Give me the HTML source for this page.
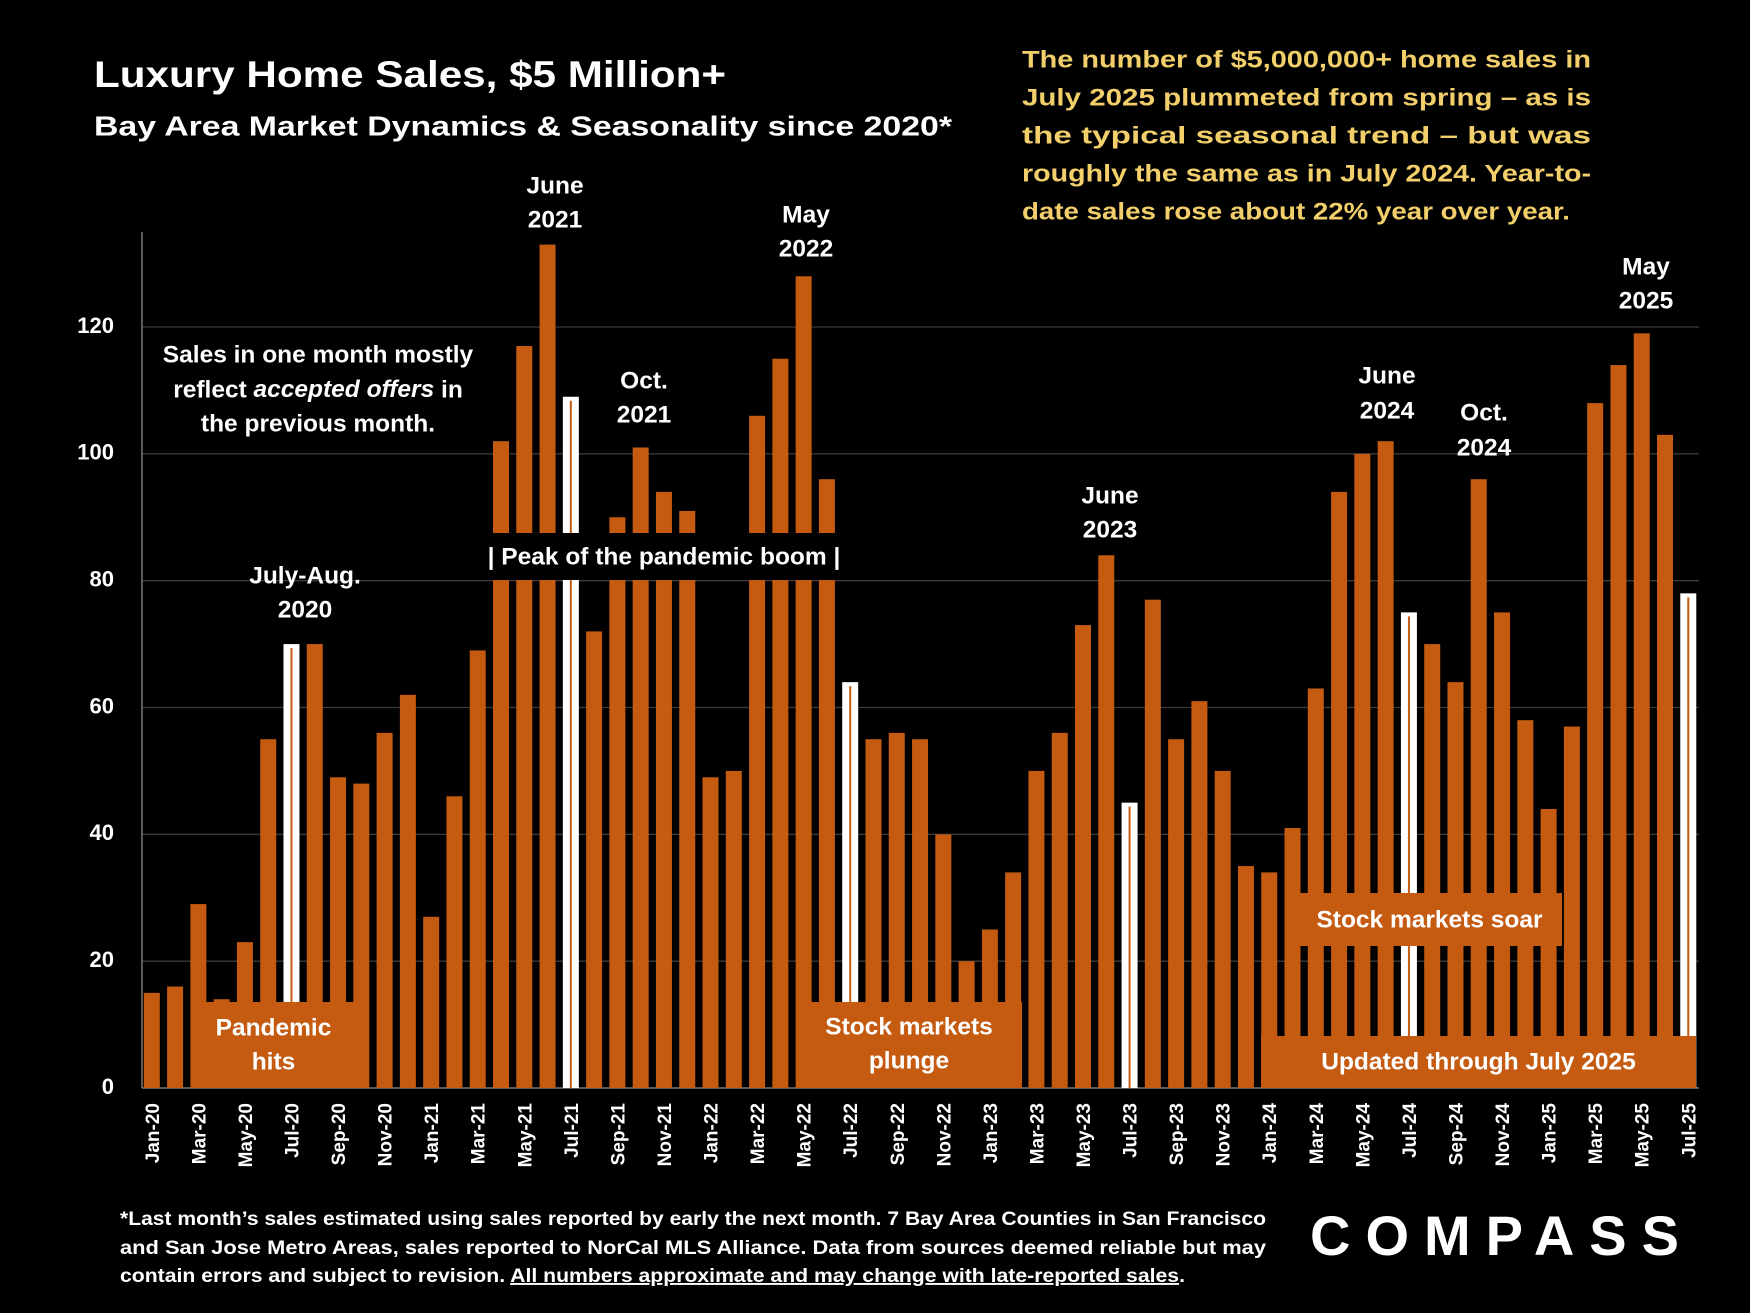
<!DOCTYPE html>
<html><head><meta charset="utf-8"><style>
html,body{margin:0;padding:0;background:#000;}
svg{display:block;}
text{font-family:"Liberation Sans",sans-serif;font-weight:bold;}
</style></head><body>
<svg id="chart" width="1750" height="1313" viewBox="0 0 1750 1313">
<rect width="1750" height="1313" fill="#000"/>
<g id="grid"></g>
<g id="bars"></g>
<g id="overlays"></g>
<g id="labels"></g>
</svg>
<script>
const months = ["Jan-20","Feb-20","Mar-20","Apr-20","May-20","Jun-20","Jul-20","Aug-20","Sep-20","Oct-20","Nov-20","Dec-20",
"Jan-21","Feb-21","Mar-21","Apr-21","May-21","Jun-21","Jul-21","Aug-21","Sep-21","Oct-21","Nov-21","Dec-21",
"Jan-22","Feb-22","Mar-22","Apr-22","May-22","Jun-22","Jul-22","Aug-22","Sep-22","Oct-22","Nov-22","Dec-22",
"Jan-23","Feb-23","Mar-23","Apr-23","May-23","Jun-23","Jul-23","Aug-23","Sep-23","Oct-23","Nov-23","Dec-23",
"Jan-24","Feb-24","Mar-24","Apr-24","May-24","Jun-24","Jul-24","Aug-24","Sep-24","Oct-24","Nov-24","Dec-24",
"Jan-25","Feb-25","Mar-25","Apr-25","May-25","Jun-25","Jul-25"];
const sales = [15,16,29,14,23,55,70,70,49,48,56,62,
27,46,69,102,117,133,109,72,90,101,94,91,
49,50,106,115,128,96,64,55,56,55,40,20,
25,34,50,56,73,84,45,77,55,61,50,35,
34,41,63,94,100,102,75,70,64,96,75,58,
44,57,108,114,119,103,78];
const highlightMonths = ["Jul-20","Jul-21","Jul-22","Jul-23","Jul-24","Jul-25"];
const yTicks = [0,20,40,60,80,100,120];

const NS="http://www.w3.org/2000/svg";
const X0=151.8, STEP=23.28, BW=16, Y0=1088, YMAX=120, YH=761;
function xs(i){return X0+i*STEP;}
function ys(v){return Y0-v*YH/YMAX;}
function mk(tag,attrs,parent){const e=document.createElementNS(NS,tag);for(const k in attrs)e.setAttribute(k,attrs[k]);parent.appendChild(e);return e;}

const grid=document.getElementById('grid');
yTicks.forEach(t=>{
  if(t>0){const l=mk('line',{x1:142,x2:1699,y1:ys(t),y2:ys(t),stroke:'#3a3a3a','stroke-width':1.3},grid);
  
  }
  const tx=mk('text',{x:114,y:ys(t),'text-anchor':'end','dominant-baseline':'middle','font-size':22,fill:'#fff'},grid);
  tx.textContent=t;
  
  
});
const ax=mk('line',{x1:142,x2:142,y1:232,y2:1088,stroke:'#777','stroke-width':1.5},grid);


const ax2=mk('line',{x1:142,x2:1699,y1:1088,y2:1088,stroke:'#777','stroke-width':1.5},grid);



const bars=document.getElementById('bars');
sales.forEach((v,i)=>{
  const hl=highlightMonths.includes(months[i]);
  const r=mk('rect',{x:xs(i)-BW/2,y:ys(v),width:BW,height:Y0-ys(v),fill:hl?'#fff':'#C55A11'},bars);
  
  
  if(hl){mk('rect',{x:xs(i)-1,y:ys(v)+4,width:2,height:Y0-ys(v)-4,fill:'#C55A11'},bars);}
  if(i%2===0){
    const t=mk('text',{x:0,y:0,transform:`translate(${xs(i)+7},1103) rotate(-90)`,'text-anchor':'end','font-size':19,fill:'#fff'},bars);
    t.textContent=months[i];
    
    
  }
});

const ov=document.getElementById('overlays');
function box(name,x,y,w,h,fill,lines,ly){
  const g=mk('g',{},ov);
  
  
  mk('rect',{x:x,y:y,width:w,height:h,fill:fill},g);
  lines.forEach((s,k)=>{const t=mk('text',{x:x+w/2,y:ly[k],'text-anchor':'middle','dominant-baseline':'middle','font-size':24.5,fill:'#fff'},g);t.textContent=s;});
}
box('peak-pandemic-boom-box',411,533,506,47,'#000',['| Peak of the pandemic boom |'],[558]);
box('pandemic-hits-box',192,1002,163,86,'#C55A11',['Pandemic','hits'],[1029,1063]);
box('stock-markets-plunge-box',796,1002,226,86,'#C55A11',['Stock markets','plunge'],[1028,1062]);
box('stock-markets-soar-box',1297,893,265,53,'#C55A11',['Stock markets  soar'],[921]);
box('updated-through-box',1261,1036,435,52,'#C55A11',['Updated through July 2025'],[1063]);

const lab=document.getElementById('labels');
function ann(name,x,lines,ys_,italic){
  const g=mk('g',{},lab);
  
  
  lines.forEach((s,k)=>{const t=mk('text',{x:x,y:ys_[k],'text-anchor':'middle','dominant-baseline':'middle','font-size':24.5,fill:'#fff'},g);t.innerHTML=s;});
}
ann('label-june-2021',555,['June','2021'],[187,221]);
ann('label-may-2022',806,['May','2022'],[216,250]);
ann('label-oct-2021',644,['Oct.','2021'],[382,416]);
ann('label-july-aug-2020',305,['July-Aug.','2020'],[577,611]);
ann('label-june-2023',1110,['June','2023'],[497,531]);
ann('label-june-2024',1387,['June','2024'],[377,412]);
ann('label-oct-2024',1484,['Oct.','2024'],[414,449]);
ann('label-may-2025',1646,['May','2025'],[268,302]);
ann('note-accepted-offers',318,['Sales in one month mostly','reflect <tspan font-style="italic">accepted offers</tspan> in','the previous month.'],[356,391,425]);

function txt(name,x,y,s,size,fill,len,anchor){
  const t=mk('text',{x:x,y:y,'dominant-baseline':'middle','font-size':size,fill:fill},lab);
  if(len){t.setAttribute('textLength',len);t.setAttribute('lengthAdjust','spacingAndGlyphs');}
  if(anchor)t.setAttribute('text-anchor',anchor);
  t.innerHTML=s;
  
  
  return t;
}
txt('chart-title',94,77,'Luxury Home Sales, $5 Million+',37,'#fff',632);
txt('chart-subtitle',94,128,'Bay Area Market Dynamics &amp; Seasonality since 2020*',28,'#fff',858);
const com=["The number of $5,000,000+ home sales in","July 2025 plummeted from spring – as is","the typical seasonal trend – but was","roughly the same as in July 2024. Year-to-","date sales rose about 22% year over  year."];
const comLen=[569,569,569,569,548];
com.forEach((s,k)=>{txt('commentary-line-'+(k+1),1022,61+k*38,s,24,'#F2CF6A',comLen[k]);});
txt('footnote-line-1',120,1220,'*Last month’s sales estimated using sales reported by early the next month. 7 Bay Area Counties in San Francisco',19,'#fff',1146);
txt('footnote-line-2',120,1249,'and San Jose Metro Areas, sales reported to NorCal MLS Alliance.  Data from sources deemed reliable but may',19,'#fff',1146);
txt('footnote-line-3',120,1277,'contain errors and subject to revision. <tspan text-decoration="underline">All numbers approximate and may change with late-reported sales</tspan>.',19,'#fff',1065);
const logo=txt('compass-logo',1310,1240,'COMPASS',56,'#fff',369);
logo.setAttribute('font-weight','normal');
logo.setAttribute('lengthAdjust','spacing');
</script>
</body></html>
